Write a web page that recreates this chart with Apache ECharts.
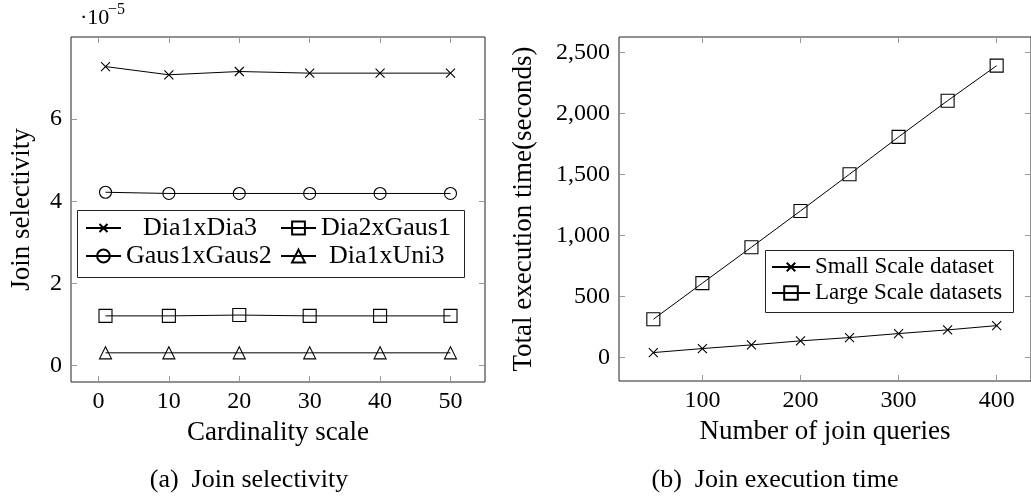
<!DOCTYPE html>
<html>
<head>
<meta charset="utf-8">
<script src="https://cdn.jsdelivr.net/npm/echarts@6/dist/echarts.min.js"></script>
<style>
  html, body { margin: 0; padding: 0; background: #fff; }
  #chart { width: 1031px; height: 498px; }
</style>
</head>
<body>
<div id="chart"></div>
<script>
// (a) Join selectivity, values in units of 1e-5
const cardinalityScale = [1, 10, 20, 30, 40, 50];
const dia1xDia3   = [7.28, 7.08, 7.16, 7.12, 7.12, 7.12];
const gaus1xGaus2 = [4.22, 4.19, 4.19, 4.19, 4.19, 4.19];
const dia2xGaus1  = [1.21, 1.21, 1.23, 1.21, 1.21, 1.21];
const dia1xUni3   = [0.31, 0.31, 0.31, 0.31, 0.31, 0.31];
const selXTicks = [0, 10, 20, 30, 40, 50];
const selYTicks = [0, 2, 4, 6];

// (b) Join execution time (seconds)
const joinQueries = [50, 100, 150, 200, 250, 300, 350, 400];
const smallScale  = [38, 71, 101, 134, 161, 194, 224, 259];
const largeScale  = [311, 607, 902, 1199, 1500, 1806, 2103, 2390];
const timeXTicks = [100, 200, 300, 400];
const timeYTicks = [0, 500, 1000, 1500, 2000, 2500];

const FONT = "'Liberation Serif', 'Times New Roman', 'DejaVu Serif', serif";
// cross mark drawn inside a padded 16x16 box so it stays small next to the other marks
const CROSS = 'path://M0,0L0.01,0M3,3L13,13M3,13L13,3M16,16L15.99,16';
const CROSS_SIZE = 14.4;

const pairs = (xs, ys) => xs.map((x, i) => [x, ys[i]]);

function mkSeries(name, xi, yi, xs, ys, symbol, size) {
  return {
    name, type: 'line', xAxisIndex: xi, yAxisIndex: yi,
    data: pairs(xs, ys),
    symbol, symbolSize: size,
    lineStyle: { color: '#000', width: 1 },
    itemStyle: { color: 'rgba(0,0,0,0)', borderColor: '#000', borderWidth: 1.1 },
    emphasis: { disabled: true },
    z: 3
  };
}

const tickStyle = { color: '#999', width: 1 };

function valueAxis(gridIndex, pos, min, max, ticks, opts) {
  const main = pos === 'bottom' || pos === 'left';
  return Object.assign({
    type: 'value', gridIndex, position: pos, min, max,
    axisLine: { show: false, onZero: false },
    splitLine: { show: false },
    axisTick: { show: true, inside: true, length: 6, lineStyle: tickStyle, customValues: ticks },
    axisLabel: main ? {
      show: true, customValues: ticks, color: '#000',
      fontFamily: FONT, fontSize: 24, margin: pos === 'bottom' ? 8 : 9
    } : { show: false }
  }, opts || {});
}

const nameStyle = { fontFamily: FONT, fontSize: 27, color: '#000' };
const commas = v => Number(v).toLocaleString('en-US');
const legendText = (size, lh) => ({ fontFamily: FONT, fontSize: size, color: '#000', lineHeight: lh });

const chart = echarts.init(document.getElementById('chart'), null, { renderer: 'canvas' });

chart.setOption({
  animation: false,
  backgroundColor: '#fff',
  textStyle: { fontFamily: FONT },
  grid: [
    { left: 71, top: 37, width: 414, height: 345, show: true, borderColor: '#222', borderWidth: 1, containLabel: false },
    { left: 619, top: 37, width: 415, height: 344, show: true, borderColor: '#222', borderWidth: 1, containLabel: false }
  ],
  xAxis: [
    valueAxis(0, 'bottom', -3.9, 54.9, selXTicks, {
      name: 'Cardinality scale', nameLocation: 'middle', nameGap: 37, nameTextStyle: nameStyle
    }),
    valueAxis(0, 'top', -3.9, 54.9, selXTicks),
    valueAxis(1, 'bottom', 15, 435, timeXTicks, {
      name: 'Number of join queries', nameLocation: 'middle', nameGap: 37, nameTextStyle: nameStyle
    }),
    valueAxis(1, 'top', 15, 435, timeXTicks)
  ],
  yAxis: [
    valueAxis(0, 'left', -0.4, 8.0, selYTicks, {
      name: 'Join selectivity', nameLocation: 'middle', nameGap: 36, nameTextStyle: nameStyle
    }),
    valueAxis(0, 'right', -0.4, 8.0, selYTicks),
    (function () {
      const a = valueAxis(1, 'left', -195, 2625, timeYTicks, {
        name: 'Total execution time(seconds)', nameLocation: 'middle', nameGap: 82, nameTextStyle: nameStyle
      });
      a.axisLabel.formatter = commas;
      return a;
    })(),
    valueAxis(1, 'right', -195, 2625, timeYTicks)
  ],
  legend: [
    {
      orient: 'vertical', left: 85, top: 214, padding: 0, itemGap: 0,
      itemWidth: 35, itemHeight: 16,
      data: [
        { name: 'Dia1xDia3', textStyle: { padding: [0, 0, 0, 17] } },
        'Gaus1xGaus2'
      ],
      textStyle: legendText(26, 28),
      selectedMode: false
    },
    {
      orient: 'vertical', left: 280, top: 214, padding: 0, itemGap: 0,
      itemWidth: 35, itemHeight: 16,
      data: [
        'Dia2xGaus1',
        { name: 'Dia1xUni3', textStyle: { padding: [0, 0, 0, 8] } }
      ],
      textStyle: legendText(26, 28),
      selectedMode: false
    },
    {
      orient: 'vertical', left: 771, top: 254, padding: 0, itemGap: 0,
      itemWidth: 38, itemHeight: 17,
      data: ['Small Scale dataset', 'Large Scale datasets'],
      textStyle: legendText(23, 26),
      selectedMode: false
    }
  ],
  series: [
    mkSeries('Dia1xDia3', 0, 0, cardinalityScale, dia1xDia3, CROSS, CROSS_SIZE),
    mkSeries('Dia2xGaus1', 0, 0, cardinalityScale, dia2xGaus1, 'rect', 13),
    mkSeries('Gaus1xGaus2', 0, 0, cardinalityScale, gaus1xGaus2, 'circle', 12),
    mkSeries('Dia1xUni3', 0, 0, cardinalityScale, dia1xUni3, 'triangle', 12),
    mkSeries('Small Scale dataset', 2, 2, joinQueries, smallScale, CROSS, CROSS_SIZE),
    mkSeries('Large Scale datasets', 2, 2, joinQueries, largeScale, 'rect', 13)
  ],
  graphic: [
    // legend frames
    { type: 'rect', shape: { x: 77.5, y: 210.5, width: 387, height: 67 },
      style: { fill: 'none', stroke: '#222', lineWidth: 1 }, z: 10 },
    { type: 'rect', shape: { x: 765.5, y: 250.5, width: 248, height: 62 },
      style: { fill: 'none', stroke: '#222', lineWidth: 1 }, z: 10 },
    // axis multiplier
    { type: 'text', left: 80, top: 7,
      style: { text: '·10', fontFamily: FONT, fontSize: 22, fill: '#000' } },
    { type: 'text', left: 108, top: 2,
      style: { text: '−5', fontFamily: FONT, fontSize: 16, fill: '#000' } },
    // captions
    { type: 'text', x: 249, y: 480,
      style: { text: '(a)  Join selectivity', fontFamily: FONT, fontSize: 26, fill: '#000',
               align: 'center', verticalAlign: 'middle' } },
    { type: 'text', x: 775, y: 480,
      style: { text: '(b)  Join execution time', fontFamily: FONT, fontSize: 26, fill: '#000',
               align: 'center', verticalAlign: 'middle' } }
  ]
});
</script>
</body>
</html>
